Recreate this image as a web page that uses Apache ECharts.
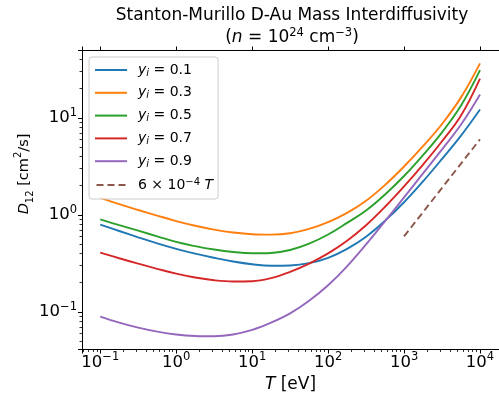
<!DOCTYPE html>
<html><head><meta charset="utf-8">
<script src="https://cdn.jsdelivr.net/npm/echarts@6/dist/echarts.min.js"></script>
<style>html,body{margin:0;padding:0;background:#fff}#c{width:499px;height:398px}</style>
</head><body><div id="c"></div>
<script>
// Temperature grid [eV]
const T = [0.1, 0.1778, 0.3162, 0.5623, 1, 1.778, 3.162, 5.623, 10, 17.78, 31.62, 56.23, 100, 177.8, 316.2, 562.3, 1000, 1778, 3162, 5623, 10000];
// D12 [cm^2/s] per y_i
const y01 = [0.793,0.682,0.587,0.509,0.447,0.398,0.361,0.331,0.310,0.299,0.301,0.318,0.361,0.447,0.596,0.871,1.349,2.213,3.767,6.546,12.16];
const y03 = [1.493,1.288,1.122,0.982,0.863,0.773,0.705,0.658,0.631,0.625,0.646,0.716,0.841,1.047,1.396,2.032,3.148,5.105,8.630,16.22,36.31];
const y05 = [0.897,0.783,0.687,0.601,0.526,0.476,0.439,0.414,0.402,0.405,0.434,0.504,0.627,0.826,1.109,1.622,2.512,4.130,7.079,13.34,30.90];
const y07 = [0.408,0.357,0.314,0.278,0.248,0.226,0.212,0.206,0.207,0.223,0.259,0.315,0.401,0.541,0.782,1.211,1.963,3.296,5.728,10.54,25.29];
const y09 = [0.0895,0.0776,0.0689,0.0627,0.0586,0.0566,0.0562,0.0586,0.0653,0.0776,0.0966,0.1303,0.1884,0.2951,0.4955,0.861,1.514,2.679,4.721,8.511,17.38];
// reference line 6e-4 T
const refT = [1000, 10000];
const refD = [0.6, 6];
const seriesNames = ['y_i = 0.1','y_i = 0.3','y_i = 0.5','y_i = 0.7','y_i = 0.9','6e-4 T'];
const colors = ['#1f77b4','#ff7f0e','#2ca02c','#d62728','#9467bd','#8c564b'];

const FONT = 'DejaVu Sans';
const tickRich = {
  t:  {fontFamily: FONT, fontSize: 16.5, color: '#000', lineHeight: 22},
  sup:{fontFamily: FONT, fontSize: 11.5, color: '#000', verticalAlign: 'top', lineHeight: 12}
};
const nameRich = {
  t:  {fontFamily: FONT, fontSize: 17, color: '#000', lineHeight: 20},
  it: {fontFamily: FONT, fontSize: 17, fontStyle: 'italic', color: '#000', lineHeight: 20}
};
const ylabRich = {
  t:  {fontFamily: FONT, fontSize: 14.5, color: '#000', lineHeight: 22},
  it: {fontFamily: FONT, fontSize: 14.5, fontStyle: 'italic', color: '#000', lineHeight: 22},
  sup:{fontFamily: FONT, fontSize: 10, color: '#000', verticalAlign: 'top', lineHeight: 12},
  sub:{fontFamily: FONT, fontSize: 10, color: '#000', verticalAlign: 'bottom', lineHeight: 12}
};
const legRich = {
  t:  {fontFamily: FONT, fontSize: 14, color: '#000', lineHeight: 16},
  it: {fontFamily: FONT, fontSize: 14, fontStyle: 'italic', color: '#000', lineHeight: 16},
  pad:{fontFamily: FONT, fontSize: 14, fontStyle: 'italic', color: '#000', lineHeight: 16, padding: [0,0,0,6]},
  padt:{fontFamily: FONT, fontSize: 14, color: '#000', lineHeight: 16, padding: [0,0,0,6]},
  sup:{fontFamily: FONT, fontSize: 10, color: '#000', verticalAlign: 'top', lineHeight: 10},
  subi:{fontFamily: FONT, fontSize: 10, fontStyle: 'italic', color: '#000', verticalAlign: 'bottom', lineHeight: 10}
};
function supTxt(v){ return String(v).replace('-', '\u2212'); }
function logLabel(v){
  const e = Math.log10(v);
  const r = Math.round(e);
  if (Math.abs(e - r) > 1e-6) return '';
  return '{t|10}{sup|' + supTxt(r) + '}';
}
function pairs(xs, ys){ return xs.map((x,i)=>[x, ys[i]]); }
const legendText = {
  'y_i = 0.1': '{pad|y}{subi|i}{t| = 0.1}',
  'y_i = 0.3': '{pad|y}{subi|i}{t| = 0.3}',
  'y_i = 0.5': '{pad|y}{subi|i}{t| = 0.5}',
  'y_i = 0.7': '{pad|y}{subi|i}{t| = 0.7}',
  'y_i = 0.9': '{pad|y}{subi|i}{t| = 0.9}',
  '6e-4 T': '{padt|6 \u00d7 10}{sup|\u22124}{it| T}'
};

const xmin = Math.pow(10, -1.24), xmax = Math.pow(10, 4.25);
const ymin = Math.pow(10, -1.387), ymax = Math.pow(10, 1.698);
const axisLineStyle = {color: '#000', width: 1};

const chart = echarts.init(document.getElementById('c'), null, {renderer: 'canvas'});
const datasets = [y01, y03, y05, y07, y09];
const series = datasets.map((d, i) => ({
  name: seriesNames[i], type: 'line', data: pairs(T, d), symbol: 'none', smooth: 0.4,
  lineStyle: {color: colors[i], width: 1.9}, itemStyle: {color: colors[i]}, z: 3
}));
series.push({
  name: seriesNames[5], type: 'line', data: pairs(refT, refD), symbol: 'none',
  lineStyle: {color: colors[5], width: 1.9, type: [7, 4]}, itemStyle: {color: colors[5]}, z: 3
});
const solidIcon = 'rect';
const dashIcon = 'path://M0,0h7v2h-7zM11,0h7v2h-7zM22,0h7v2h-7z';

chart.setOption({
  animation: false,
  backgroundColor: '#fff',
  grid: {left: 82, top: 50, width: 420, height: 307, containLabel: false},
  xAxis: [{
    type: 'log', min: xmin, max: xmax, logBase: 10,
    axisLine: {show: true, lineStyle: axisLineStyle},
    axisTick: {show: true, inside: false, length: 4, lineStyle: axisLineStyle},
    minorTick: {show: true, splitNumber: 9, length: 2.5, lineStyle: {color: '#000', width: 0.8}},
    splitLine: {show: false}, minorSplitLine: {show: false},
    axisLabel: {formatter: logLabel, rich: tickRich, margin: 2, showMinLabel: false, showMaxLabel: false},
    name: '{it|T}{t| [eV]}', nameLocation: 'middle', nameGap: 25,
    nameTextStyle: {rich: nameRich}
  }, {
    type: 'log', position: 'top', min: xmin, max: xmax, logBase: 10,
    axisLine: {show: true, lineStyle: axisLineStyle},
    axisTick: {show: true, inside: false, length: 3.5, lineStyle: axisLineStyle},
    axisLabel: {show: false}, splitLine: {show: false}
  }],
  yAxis: [{
    type: 'log', min: ymin, max: ymax, logBase: 10,
    axisLine: {show: true, lineStyle: axisLineStyle},
    axisTick: {show: true, inside: false, length: 4, lineStyle: axisLineStyle},
    minorTick: {show: true, splitNumber: 9, length: 2.5, lineStyle: {color: '#000', width: 0.8}},
    splitLine: {show: false}, minorSplitLine: {show: false},
    axisLabel: {formatter: logLabel, rich: tickRich, margin: 5, showMinLabel: false, showMaxLabel: false}
  }],
  legend: {
    orient: 'vertical', left: 89, top: 57,
    padding: [6, 5, 7, 6], itemGap: 7.8, itemWidth: 32, itemHeight: 2,
    backgroundColor: 'rgba(255,255,255,0.8)', borderColor: '#cccccc', borderWidth: 1, borderRadius: 3,
    data: seriesNames.map((n, i) => ({name: n, icon: i === 5 ? dashIcon : solidIcon})),
    formatter: name => legendText[name],
    textStyle: {rich: legRich, fontFamily: FONT, fontSize: 14}
  },
  graphic: [{
    type: 'text', x: 292, y: 5, z: 10,
    style: {
      text: '{t|Stanton-Murillo D-Au Mass Interdiffusivity}\n{t|(}{it|n}{t| = 10}{sup|24}{t| cm}{sup|\u22123}{t|)}',
      rich: {
        t: {fontFamily: FONT, fontSize: 17, color: '#000', lineHeight: 22},
        it: {fontFamily: FONT, fontSize: 17, fontStyle: 'italic', color: '#000', lineHeight: 22},
        sup: {fontFamily: FONT, fontSize: 11.5, color: '#000', verticalAlign: 'top', lineHeight: 14}
      },
      align: 'center', verticalAlign: 'top'
    }
  }, {
    type: 'text', x: 24, y: 174, rotation: Math.PI / 2, z: 10,
    style: {
      text: '{it|D}{sub|12}{t| [cm}{sup|2}{t|/s]}',
      rich: ylabRich, align: 'center', verticalAlign: 'middle'
    }
  }],
  series: series
});
</script></body></html>
